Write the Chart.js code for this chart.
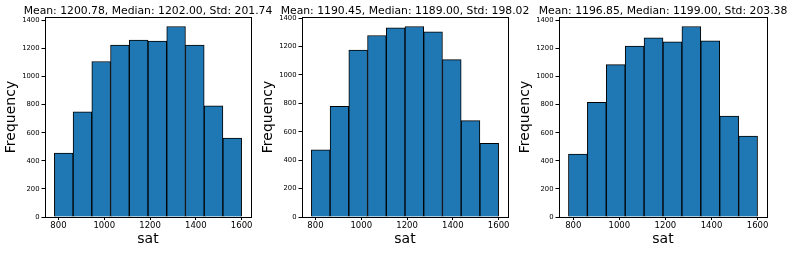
<!DOCTYPE html>
<html>
<head>
<meta charset="utf-8">
<script src="https://cdn.jsdelivr.net/npm/chart.js@4"></script>
<style>
  body { margin: 0; width: 793px; height: 253px; overflow: hidden; background: #fff; position: relative; }
  canvas { position: absolute; top: 0; }
</style>
</head>
<body>
<canvas id="c1" width="296" height="253" style="left:0px"></canvas>
<canvas id="c2" width="296" height="253" style="left:257px"></canvas>
<canvas id="c3" width="298" height="253" style="left:514px"></canvas>
<script>
// three samples of sat scores, 10 bins each
const titles = [
  "Mean: 1200.78, Median: 1202.00, Std: 201.74",
  "Mean: 1190.45, Median: 1189.00, Std: 198.02",
  "Mean: 1196.85, Median: 1199.00, Std: 203.38"
];
const binRanges = [[782, 1600], [782, 1600], [779, 1600]];
const counts1 = [456, 749, 1108, 1224, 1260, 1253, 1357, 1224, 792, 563];
const counts2 = [473, 779, 1176, 1278, 1332, 1341, 1304, 1108, 678, 518];
const counts3 = [448, 817, 1086, 1217, 1276, 1248, 1357, 1255, 719, 576];
const xTicks = [800, 1000, 1200, 1400, 1600];
const yTicks = [0, 200, 400, 600, 800, 1000, 1200, 1400];

// axes box + title over the plot area (title is wider than the plot, so drawn by hand)
const frame = {
  id: 'frame',
  afterDatasetsDraw(chart, args, opts) {
    const a = chart.chartArea, ctx = chart.ctx;
    ctx.save();
    ctx.strokeStyle = '#000';
    ctx.lineWidth = 1;
    ctx.strokeRect(Math.round(a.left) + 0.5, Math.round(a.top) + 0.5,
                   Math.round(a.right - a.left), Math.round(a.bottom - a.top));
    ctx.fillStyle = '#000';
    ctx.font = '10.8px "DejaVu Sans"';
    ctx.textAlign = 'center';
    ctx.textBaseline = 'alphabetic';
    ctx.fillText(opts.text, (a.left + a.right) / 2, 14);
    ctx.restore();
  }
};

function histogram(id, title, counts, range) {
  const lo = range[0], hi = range[1];
  const w = (hi - lo) / counts.length;
  const points = counts.map((c, i) => ({ x: lo + w * (i + 0.5), y: c }));
  const pad = (hi - lo) * 0.05;
  const yMax = Math.max(...counts) * 1.05;

  new Chart(document.getElementById(id), {
    type: 'bar',
    data: {
      datasets: [{
        data: points,
        backgroundColor: '#1f77b4',
        borderColor: '#000',
        borderWidth: 1,
        barPercentage: 1,
        categoryPercentage: 1,
        grouped: false
      }]
    },
    options: {
      responsive: false,
      animation: false,
      layout: { padding: { left: 0, right: 45, top: 17, bottom: 0 } },
      plugins: {
        legend: { display: false },
        tooltip: { enabled: false },
        title: { display: false },
        frame: { text: title }
      },
      scales: {
        x: {
          type: 'linear',
          min: lo - pad,
          max: hi + pad,
          offset: false,
          afterBuildTicks: s => { s.ticks = xTicks.map(v => ({ value: v })); },
          afterFit: s => { s.height = 36; },
          ticks: {
            color: '#000', font: { family: 'DejaVu Sans', size: 8.5 }, padding: 1, maxRotation: 0,
            callback: v => String(v)
          },
          grid: { offset: false, drawOnChartArea: false, drawTicks: true, tickLength: 3, color: '#000' },
          border: { display: false },
          title: {
            display: true, text: 'sat', color: '#000',
            font: { family: 'DejaVu Sans', size: 14, lineHeight: 1.2 },
            padding: { top: 0, bottom: 5.5 }
          }
        },
        y: {
          min: 0,
          max: yMax,
          afterBuildTicks: s => { s.ticks = yTicks.map(v => ({ value: v })); },
          afterFit: s => { s.width = 45; },
          ticks: {
            color: '#000', font: { family: 'DejaVu Sans', size: 6.8 }, padding: 2,
            callback: v => String(v)
          },
          grid: { drawOnChartArea: false, drawTicks: true, tickLength: 3.5, color: '#000' },
          border: { display: false },
          title: {
            display: true, text: 'Frequency', color: '#000',
            font: { family: 'DejaVu Sans', size: 14, lineHeight: 1.2 },
            padding: { top: 3, bottom: 0 }
          }
        }
      }
    },
    plugins: [frame]
  });
}

histogram('c1', titles[0], counts1, binRanges[0]);
histogram('c2', titles[1], counts2, binRanges[1]);
histogram('c3', titles[2], counts3, binRanges[2]);
</script>
</body>
</html>
